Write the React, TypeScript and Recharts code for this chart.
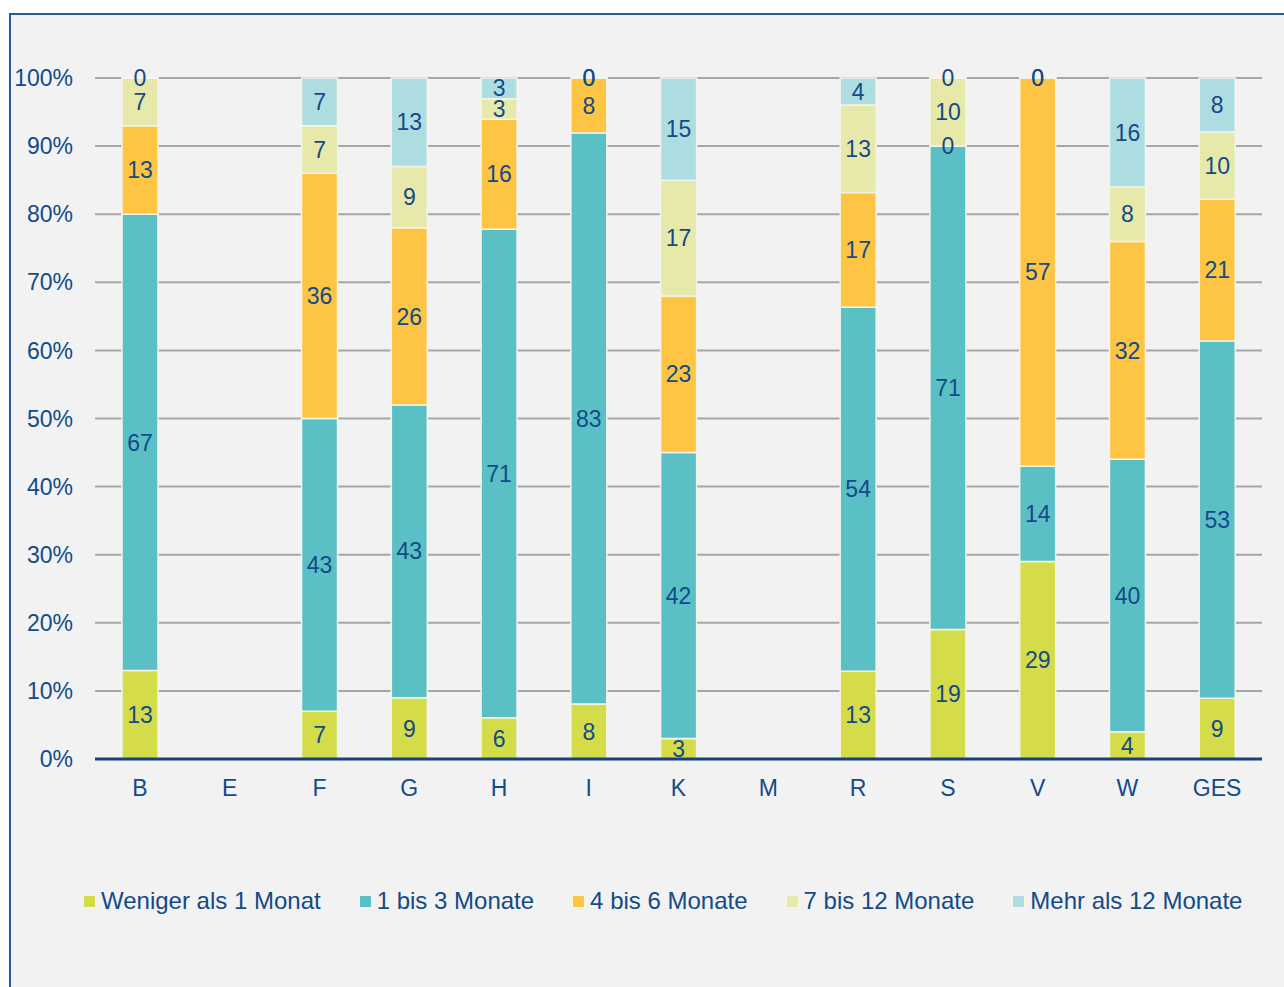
import React from 'react';
import { BarChart, Bar, XAxis, YAxis, CartesianGrid, LabelList } from 'recharts';

const categories = ['B', 'E', 'F', 'G', 'H', 'I', 'K', 'M', 'R', 'S', 'V', 'W', 'GES'];

// null = keine Angabe (E, M)
const wenigerAls1 = [13, null, 7, 9, 6, 8, 3, null, 13, 19, 29, 4, 9];
const bis3 = [67, null, 43, 43, 71, 83, 42, null, 54, 71, 14, 40, 53];
const bis6 = [13, null, 36, 26, 16, 8, 23, null, 17, 0, 57, 32, 21];
const bis12 = [7, null, 7, 9, 3, 0, 17, null, 13, 10, 0, 8, 10];
const mehrAls12 = [0, null, 7, 13, 3, 0, 15, null, 4, 0, 0, 16, 8];

const yTicks = [0, 0.1, 0.2, 0.3, 0.4, 0.5, 0.6, 0.7, 0.8, 0.9, 1];

const series = [
  { key: 'w1', name: 'Weniger als 1 Monat', color: '#d4dc4a', values: wenigerAls1 },
  { key: 'm3', name: '1 bis 3 Monate', color: '#5bc0c5', values: bis3 },
  { key: 'm6', name: '4 bis 6 Monate', color: '#fdc543', values: bis6 },
  { key: 'm12', name: '7 bis 12 Monate', color: '#e6e9a9', values: bis12 },
  { key: 'mx', name: 'Mehr als 12 Monate', color: '#aedde1', values: mehrAls12 },
];

const data = categories.map((cat, i) => {
  const row: Record<string, any> = { cat };
  series.forEach((s) => {
    if (s.values[i] !== null) row[s.key] = s.values[i];
  });
  return row;
});

const TEXT = '#134a88';
const FONT = '"Liberation Sans", Arial, sans-serif';

const renderLabel = (props: any) => {
  const { x, y, width, height, value } = props;
  if (value === null || value === undefined) return null;
  return (
    <text
      x={Number(x) + Number(width) / 2}
      y={Number(y) + Number(height) / 2}
      dy="0.355em"
      textAnchor="middle"
      fill={TEXT}
      fontSize={23}
      fontFamily={FONT}
    >
      {value}
    </text>
  );
};

// zero values still get a (hair-thin) segment so their "0" label is drawn
const zeroMin = (vals: (number | null)[]) => (_v: any, i: number) => (vals[i] === 0 ? 0.5 : 0);

function ChartLegend() {
  return (
    <div
      style={{
        position: 'absolute',
        left: 83,
        top: 887,
        display: 'flex',
        alignItems: 'center',
        whiteSpace: 'nowrap',
        fontFamily: FONT,
        fontSize: 24,
        color: TEXT,
      }}
    >
      {series.map((s) => (
        <div key={s.key} style={{ display: 'flex', alignItems: 'center', marginRight: 38 }}>
          <span
            style={{
              display: 'inline-block',
              width: 11,
              height: 11,
              background: s.color,
              border: '1px solid #f7f7e0',
              marginRight: 5,
            }}
          />
          <span>{s.name}</span>
        </div>
      ))}
    </div>
  );
}

export default function App() {
  return (
    <div style={{ position: 'absolute', left: 0, top: 0, width: 1284, height: 987, background: '#ffffff', overflow: 'hidden' }}>
      <div
        style={{
          position: 'absolute',
          left: 9,
          top: 13,
          width: 1300,
          height: 1000,
          border: '2px solid #2c5a98',
          background: '#f2f2f2',
        }}
      />
      <div style={{ position: 'absolute', left: 0, top: 0 }}>
        <BarChart
          width={1284}
          height={987}
          data={data}
          stackOffset="expand"
          margin={{ top: 78, right: 22, bottom: 0, left: 15 }}
          barSize={36}
        >
          <CartesianGrid horizontal vertical={false} stroke="#a6a6a6" strokeWidth={2} />
          <XAxis
            dataKey="cat"
            height={228}
            tickLine={false}
            axisLine={{ stroke: '#17407e', strokeWidth: 3 }}
            tickMargin={15}
            tick={{ fill: TEXT, fontSize: 23, fontFamily: FONT }}
            interval={0}
          />
          <YAxis
            width={80}
            domain={[0, 1]}
            ticks={yTicks}
            tickFormatter={(v: number) => `${Math.round(v * 100)}%`}
            tickLine={false}
            axisLine={false}
            tickMargin={16}
            tick={{ fill: TEXT, fontSize: 23, fontFamily: FONT }}
          />
          {series.map((s) => (
            <Bar
              key={s.key}
              dataKey={s.key}
              name={s.name}
              stackId="a"
              fill={s.color}
              stroke="#f4f4ec"
              strokeWidth={1.5}
              minPointSize={zeroMin(s.values) as any}
              isAnimationActive={false}
            >
              <LabelList dataKey={s.key} content={renderLabel} />
            </Bar>
          ))}
        </BarChart>
      </div>
      <ChartLegend />
    </div>
  );
}
